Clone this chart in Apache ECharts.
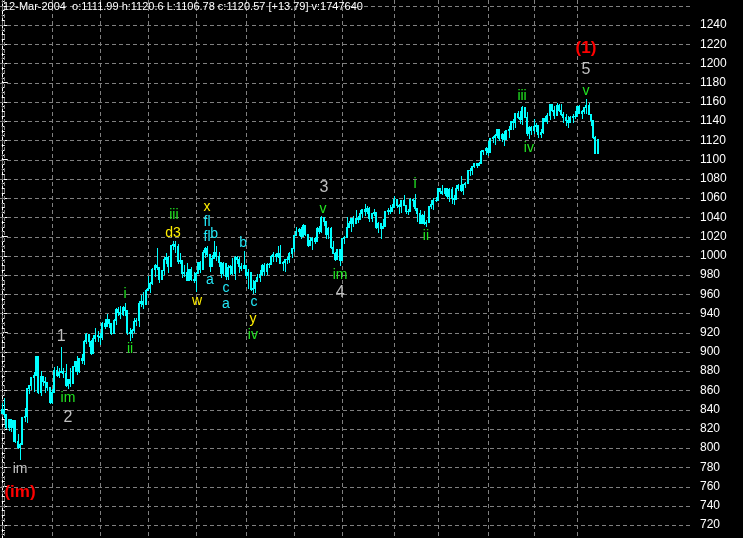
<!DOCTYPE html>
<html>
<head>
<meta charset="utf-8">
<script src="https://cdn.jsdelivr.net/npm/echarts/dist/echarts.min.js"></script>
<style>
html,body{margin:0;padding:0;background:#000;}
#chart{width:743px;height:538px;}
</style>
</head>
<body>
<div id="chart"></div>
<script>
// ---- data (S&P 500 daily bars, 28-Feb-2003 .. 12-Mar-2004) ----
const monthKeys = ['2003-02','2003-03','2003-04','2003-05','2003-06','2003-07','2003-08','2003-09','2003-10','2003-11','2003-12','2004-01','2004-02','2004-03'];
const monthDays = [
  [28],
  [3,4,5,6,7,10,11,12,13,14,17,18,19,20,21,24,25,26,27,28,31],
  [1,2,3,4,7,8,9,10,11,14,15,16,17,21,22,23,24,25,28,29,30],
  [1,2,5,6,7,8,9,12,13,14,15,16,19,20,21,22,23,27,28,29,30],
  [2,3,4,5,6,9,10,11,12,13,16,17,18,19,20,23,24,25,26,27,30],
  [1,2,3,7,8,9,10,11,14,15,16,17,18,21,22,23,24,25,28,29,30,31],
  [1,4,5,6,7,8,11,12,13,14,15,18,19,20,21,22,25,26,27,28,29],
  [2,3,4,5,8,9,10,11,12,15,16,17,18,19,22,23,24,25,26,29,30],
  [1,2,3,6,7,8,9,10,13,14,15,16,17,20,21,22,23,24,27,28,29,30,31],
  [3,4,5,6,7,10,11,12,13,14,17,18,19,20,21,24,25,26,28],
  [1,2,3,4,5,8,9,10,11,12,15,16,17,18,19,22,23,24,26,29,30,31],
  [2,5,6,7,8,9,12,13,14,15,16,20,21,22,23,26,27,28,29,30],
  [2,3,4,5,6,9,10,11,12,13,17,18,19,20,23,24,25,26,27],
  [1,2,3,4,5,8,9,10,11,12]
];
const opens = [
  837,
  841,835,822,830,822,829,807,801,804,832,833,863,866,874,876,896,858,875,870,869,864,
  848,858,881,876,879,880,878,866,872,868,885,891,880,894,892,911,919,911,899,915,918,
  917,916,930,927,934,930,920,933,945,942,939,947,944,921,920,923,932,933,951,953,950,
  964,967,972,986,990,988,976,985,997,999,989,1011,1012,1010,995,996,982,983,975,986,976,
  975,982,994,986,1004,1008,1002,989,998,1004,1000,994,982,993,979,988,989,982,999,997,989,987,
  990,980,983,965,967,974,978,981,990,984,991,991,1000,1002,1000,1003,993,994,997,997,1003,
  1008,1022,1026,1028,1021,1032,1023,1011,1016,1019,1015,1029,1026,1040,1036,1023,1029,1009,1003,997,1007,
  996,1018,1020,1030,1034,1039,1034,1039,1038,1045,1049,1047,1050,1039,1045,1046,1030,1034,1029,1031,1047,1048,1047,
  1051,1059,1053,1052,1058,1053,1047,1047,1059,1058,1050,1044,1034,1042,1034,1035,1052,1054,1058,
  1058,1070,1067,1065,1070,1062,1069,1060,1059,1071,1074,1068,1075,1076,1089,1089,1093,1096,1094,1096,1109,1110,
  1112,1108,1122,1124,1126,1132,1122,1127,1121,1131,1132,1140,1139,1148,1144,1142,1155,1144,1128,1134,
  1131,1135,1136,1127,1129,1143,1140,1146,1158,1152,1146,1157,1152,1147,1144,1141,1139,1144,1145,
  1145,1156,1149,1151,1155,1157,1147,1141,1124,1107
];
const highs = [
  847,
  852,835,830,830,829,829,815,805,832,842,863,866,874,879,896,896,880,875,874,869,864,
  861,884,885,883,905,883,887,872,883,885,891,896,894,898,912,920,919,912,918,925,922,
  920,931,934,939,934,930,934,946,947,948,948,951,944,925,924,935,935,953,959,962,965,
  979,973,987,991,1008,988,985,999,1003,1000,1011,1015,1015,1012,1003,996,990,992,986,988,983,
  983,994,995,1006,1009,1010,1002,1001,1015,1010,1004,994,994,993,990,990,998,1000,1000,999,993,1005,
  990,986,983,975,975,981,985,991,993,992,993,1001,1004,1003,1010,1011,995,997,999,1004,1008,
  1022,1030,1029,1030,1033,1032,1023,1020,1020,1020,1030,1031,1041,1040,1036,1030,1030,1015,1004,1007,1007,
  1018,1021,1040,1036,1039,1041,1048,1041,1048,1049,1054,1052,1051,1045,1049,1046,1035,1034,1038,1047,1050,1053,1054,
  1062,1059,1054,1058,1063,1053,1049,1060,1059,1064,1050,1048,1043,1047,1037,1052,1058,1060,1061,
  1071,1071,1074,1071,1070,1070,1072,1063,1074,1075,1083,1075,1077,1089,1091,1093,1097,1096,1098,1110,1110,1113,
  1119,1123,1125,1127,1132,1132,1128,1130,1131,1135,1140,1142,1149,1151,1151,1156,1155,1150,1135,1135,
  1142,1138,1136,1132,1143,1145,1148,1158,1158,1156,1159,1158,1158,1150,1147,1145,1145,1147,1151,
  1156,1157,1152,1155,1163,1159,1147,1141,1125,1121
];
const lows = [
  836,
  832,821,819,818,807,806,800,789,804,828,827,857,861,859,876,857,855,866,858,860,847,
  847,858,875,874,879,874,865,862,865,868,880,877,879,888,887,909,906,898,899,911,911,
  908,913,925,927,926,919,920,929,938,935,938,938,919,912,916,921,928,927,948,946,950,
  964,962,971,979,986,973,976,981,993,983,989,1007,1004,992,993,978,979,975,975,975,973,
  963,982,983,986,999,1000,984,989,998,996,989,978,980,976,976,981,981,976,993,983,985,987,
  977,966,964,961,962,974,974,980,980,981,988,991,995,995,999,992,985,984,993,994,999,
  1005,1022,1022,1018,1021,1022,1010,1011,1007,1013,1015,1024,1025,1032,1019,1018,1008,1003,996,997,990,
  996,1013,1020,1030,1026,1031,1034,1035,1038,1040,1042,1044,1036,1036,1042,1029,1025,1019,1029,1031,1043,1044,1047,
  1051,1051,1045,1046,1053,1045,1043,1047,1052,1048,1036,1034,1034,1033,1031,1035,1050,1049,1057,
  1058,1065,1064,1063,1060,1057,1055,1054,1059,1068,1067,1064,1072,1076,1084,1085,1092,1092,1094,1096,1106,1106,
  1105,1108,1118,1116,1124,1120,1119,1115,1121,1124,1132,1132,1134,1143,1138,1137,1144,1126,1122,1127,
  1128,1130,1124,1124,1128,1140,1138,1142,1151,1143,1146,1151,1146,1139,1136,1134,1139,1139,1143,
  1145,1149,1143,1149,1148,1147,1136,1123,1107,1107
];
const closes = [
  841,
  835,822,830,822,829,807,801,804,832,833,863,866,874,876,896,858,875,870,869,864,848,
  858,881,876,879,880,878,866,872,868,885,891,880,894,892,911,919,911,899,915,918,917,
  916,930,927,934,930,920,933,945,942,939,947,944,921,920,923,932,933,951,953,950,964,
  967,972,986,990,988,976,985,997,999,989,1011,1012,1010,995,996,982,983,975,986,976,975,
  982,994,986,1004,1008,1002,989,998,1004,1000,994,982,993,979,988,989,982,999,997,989,987,990,
  980,983,965,967,974,978,981,990,984,991,991,1000,1002,1000,1003,993,994,997,997,1003,1008,
  1022,1026,1028,1021,1032,1023,1011,1016,1019,1015,1029,1026,1040,1036,1023,1029,1009,1003,997,1007,996,
  1018,1020,1030,1034,1039,1034,1039,1038,1045,1049,1047,1050,1039,1045,1046,1030,1034,1029,1031,1047,1048,1047,1051,
  1059,1053,1052,1058,1053,1047,1047,1059,1058,1050,1044,1034,1042,1034,1035,1052,1054,1058,1058,
  1070,1067,1065,1070,1062,1069,1060,1059,1071,1074,1068,1075,1076,1089,1089,1093,1096,1094,1096,1109,1110,1112,
  1108,1122,1124,1126,1132,1122,1127,1121,1131,1132,1140,1139,1148,1144,1142,1155,1144,1128,1134,1131,
  1135,1136,1127,1129,1143,1140,1146,1158,1152,1146,1157,1152,1147,1144,1141,1139,1144,1145,1145,
  1156,1149,1151,1155,1157,1147,1141,1124,1107,1121
];
const yLabelMin = 720, yLabelMax = 1240, yStep = 20, yGridTop = 1260;
const headerText = '12-Mar-2004  o:1111.99 h:1120.6 L:1106.78 c:1120.57 [+13.79] v:1747640';
// wave labels: text, bar index, price, colour key, font size, bold
const waveLabels = [
  ['(1)', 255.9, 1216, 'red', 17, true],
  ['5', 255.9, 1194, 'gray', 16, false],
  ['v', 255.9, 1171, 'green', 14, false],
  ['iii', 227.9, 1166, 'green', 14, false],
  ['iv', 230.9, 1112, 'green', 14, false],
  ['i', 181, 1074.6, 'green', 14, false],
  ['ii', 185.8, 1020.6, 'green', 14, false],
  ['3', 141.1, 1070.5, 'gray', 16, false],
  ['v', 140.7, 1048.6, 'green', 14, false],
  ['im', 148.2, 980, 'green', 14, false],
  ['4', 148.2, 961.3, 'gray', 16, false],
  ['iii', 75.4, 1042.4, 'green', 14, false],
  ['d3', 75, 1023.7, 'yellow', 14, false],
  ['x', 89.9, 1050.7, 'yellow', 14, false],
  ['fl', 89.9, 1035.1, 'cyan', 14, false],
  ['fl', 89.9, 1019.5, 'cyan', 14, false],
  ['b', 93, 1022.6, 'cyan', 14, false],
  ['a', 91.2, 974.8, 'cyan', 14, false],
  ['c', 98.2, 966.5, 'cyan', 14, false],
  ['a', 98.2, 949.8, 'cyan', 14, false],
  ['w', 85.5, 953, 'yellow', 14, false],
  ['b', 105.7, 1013.3, 'cyan', 14, false],
  ['c', 110.5, 951.9, 'cyan', 14, false],
  ['y', 110, 934.2, 'yellow', 14, false],
  ['iv', 110, 917.6, 'green', 14, false],
  ['i', 54, 960, 'green', 14, false],
  ['ii', 56.2, 902.8, 'green', 14, false],
  ['1', 26, 915.5, 'gray', 16, false],
  ['im', 29, 852, 'green', 14, false],
  ['2', 29, 831.3, 'gray', 16, false],
  ['im', 8, 778.2, 'gray', 14, false],
  ['(im)', 8, 754.3, 'red', 17, true]
];

// ---- build ----
const FONT = "'Liberation Sans', Arial, sans-serif";
const BAR = '#00ffff';
const GRIDC = '#808080';
const COLORS = {red:'#ff0000', gray:'#c0c0c0', green:'#22e622', yellow:'#ffee00', cyan:'#22e8f8'};
const dates = [];
const monthStarts = [];
monthKeys.forEach((m, k) => {
  monthStarts.push(dates.length);
  monthDays[k].forEach(d => dates.push(m + '-' + String(d).padStart(2, '0')));
});
const barData = dates.map((d, i) => [i, opens[i], highs[i], lows[i], closes[i]]);
const gridLevels = [];
for (let v = yLabelMin; v <= yGridTop; v += yStep) gridLevels.push(v);

// layout: 1240 -> y 25, 720 -> y 525 ; bar 0 at x 1.77, spacing 2.283
const k = 500 / 520;
const yMin = 700, yMax = 1280;
const gridTop = 25 - (yMax - 1240) * k;
const gridHeight = (yMax - yMin) * k;
const plotW = 691, barStep = 2.283, x0 = 1.77;
const xMin = -x0 / barStep, xMax = xMin + plotW / barStep;
const DASH = 4, GAP = 3;

function dashedH(x1, x2, y) {
  const segs = [];
  for (let x = x1; x < x2; x += DASH + GAP) segs.push({type: 'rect', shape: {x: x, y: y, width: Math.min(DASH, x2 - x), height: 1}, style: {fill: GRIDC}});
  return segs;
}
function dashedV(x, y1, y2) {
  const segs = [];
  for (let y = y1; y < y2; y += DASH + GAP) segs.push({type: 'rect', shape: {x: x, y: y, width: 1, height: Math.min(DASH, y2 - y)}, style: {fill: GRIDC}});
  return segs;
}

const chart = echarts.init(document.getElementById('chart'), null, {renderer: 'canvas'});
chart.setOption({
  backgroundColor: '#000',
  animation: false,
  title: {
    text: headerText, left: 3, top: 1, padding: 0,
    textStyle: {color: '#ffffff', fontSize: 11, fontWeight: 'normal', fontFamily: FONT}
  },
  grid: {left: 0, width: plotW, top: gridTop, height: gridHeight, containLabel: false, outerBoundsMode: 'none'},
  xAxis: {
    type: 'value', min: xMin, max: xMax,
    axisLine: {show: false}, axisTick: {show: false}, axisLabel: {show: false}, splitLine: {show: false}
  },
  yAxis: {
    type: 'value', position: 'right', min: yMin, max: yMax, interval: yStep,
    axisLine: {show: true, lineStyle: {color: '#ffffff', width: 1}},
    axisTick: {show: true, length: 6, lineStyle: {color: '#ffffff'}},
    minorTick: {show: true, splitNumber: 4, length: 3, lineStyle: {color: '#ffffff'}},
    axisLabel: {
      color: '#ffffff', fontSize: 12, fontFamily: FONT, margin: 9,
      formatter: v => (v >= yLabelMin && v <= yLabelMax) ? String(v) : ''
    },
    splitLine: {show: false}
  },
  series: [
    {
      type: 'custom', name: 'hgrid', z: 1, silent: true, clip: false,
      data: gridLevels.map(v => [0, v]),
      encode: {x: 0, y: 1},
      renderItem: (params, api) => {
        const y = Math.round(api.coord([0, api.value(1)])[1]);
        return {type: 'group', children: dashedH(0, plotW - 1, y)};
      }
    },
    {
      type: 'custom', name: 'months', z: 1, silent: true, clip: false,
      data: monthStarts.map(i => [i, 1000]),
      encode: {x: 0, y: 1},
      renderItem: (params, api) => {
        const x = Math.round(api.coord([api.value(0), 1000])[0]);
        return {type: 'group', children: dashedV(x, 0, 538)};
      }
    },
    {
      type: 'custom', name: 'SPX', z: 2, silent: true,
      data: barData,
      encode: {x: 0, y: [1, 2, 3, 4]},
      renderItem: (params, api) => {
        const i = api.value(0);
        const pO = api.coord([i, api.value(1)]);
        const pH = api.coord([i, api.value(2)]);
        const pL = api.coord([i, api.value(3)]);
        const pC = api.coord([i, api.value(4)]);
        const x = Math.round(pH[0]);
        const yH = Math.round(pH[1]), yL = Math.round(pL[1]);
        const yO = Math.round(pO[1]), yC = Math.round(pC[1]);
        const bTop = Math.min(yO, yC), bBot = Math.max(yO, yC);
        return {type: 'group', children: [
          {type: 'rect', shape: {x: x, y: yH, width: 1, height: Math.max(1, yL - yH + 1)}, style: {fill: BAR}},
          {type: 'rect', shape: {x: x - 1, y: bTop, width: 2, height: Math.max(1, bBot - bTop + 1)}, style: {fill: BAR}}
        ]};
      }
    },
    {
      type: 'custom', name: 'waves', z: 3, silent: true,
      data: waveLabels.map((w, n) => [w[1], w[2], n]),
      encode: {x: 0, y: 1},
      renderItem: (params, api) => {
        const w = waveLabels[api.value(2)];
        const p = api.coord([api.value(0), api.value(1)]);
        return {type: 'text', x: p[0], y: p[1], style: {
          text: w[0], fill: COLORS[w[3]],
          font: (w[5] ? 'bold ' : '') + w[4] + 'px ' + FONT,
          align: 'center', verticalAlign: 'middle'
        }};
      }
    }
  ]
});
</script>
</body>
</html>
